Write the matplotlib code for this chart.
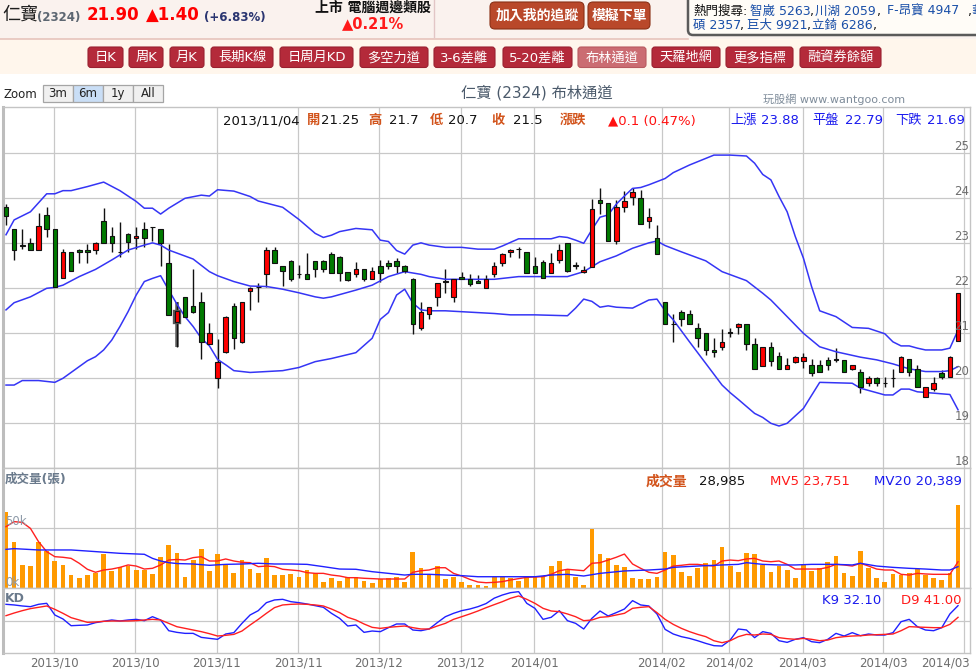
import numpy as np
import matplotlib
matplotlib.use("Agg")
import matplotlib.pyplot as plt
import matplotlib.transforms as mtrans
from matplotlib.patches import FancyBboxPatch, Rectangle

plt.rcParams['font.family'] = ['DejaVu Sans', 'Noto Sans CJK TC']

# ---------------- data ----------------
opens = [23.80, 23.31, 22.97, 23.00, 22.85, 23.64, 23.31, 22.24, 22.80, 22.85,
         22.85, 22.85, 23.50, 23.16, 22.80, 23.20, 23.11, 23.31, 23.36, 23.31,
         22.56, 21.25, 21.80, 21.61, 21.69, 20.76, 20.00, 20.59, 21.61, 20.80,
         21.95, 22.02, 22.31, 22.85, 22.50, 22.61, 22.31, 22.31, 22.61, 22.61,
         22.76, 22.69, 22.37, 22.31, 22.44, 22.20, 22.50, 22.56, 22.61, 22.50,
         22.21, 21.11, 21.44, 21.80, 22.15, 21.80, 22.25, 22.20, 22.16, 22.00,
         22.31, 22.56, 22.80, 22.87, 22.80, 22.50, 22.59, 22.35, 22.63, 23.00,
         22.50, 22.37, 22.48, 23.96, 23.89, 23.05, 23.80, 24.04, 24.00, 23.50,
         23.11, 21.69, 21.20, 21.48, 21.44, 21.11, 21.00, 20.64, 20.70, 21.01,
         21.15, 21.20, 20.76, 20.27, 20.69, 20.50, 20.20, 20.36, 20.39, 20.29,
         20.29, 20.41, 20.41, 20.41, 20.20, 20.15, 19.89, 20.00, 19.89, 20.00,
         20.15, 20.44, 20.20, 19.59, 19.76, 20.11, 20.04, 20.84]
highs = [23.87, 23.31, 23.31, 23.11, 23.67, 23.81, 23.31, 22.87, 22.81, 22.87,
         22.98, 23.04, 23.78, 23.37, 23.47, 23.22, 23.37, 23.47, 23.37, 23.31,
         22.98, 21.70, 21.80, 22.42, 21.91, 21.22, 20.87, 21.39, 21.67, 21.70,
         22.02, 22.11, 22.91, 22.91, 22.50, 22.63, 22.52, 22.78, 22.61, 22.63,
         22.81, 22.72, 22.37, 22.58, 22.44, 22.47, 22.63, 22.63, 22.67, 22.52,
         22.22, 21.70, 21.59, 22.11, 22.42, 22.20, 22.37, 22.31, 22.30, 22.30,
         22.58, 22.79, 22.87, 22.91, 22.81, 22.70, 22.63, 22.78, 22.98, 23.00,
         22.59, 22.50, 23.98, 24.22, 23.89, 23.96, 24.17, 24.22, 24.19, 23.78,
         23.41, 21.70, 21.44, 21.52, 21.52, 21.22, 21.01, 20.90, 21.10, 21.11,
         21.22, 21.20, 20.90, 20.69, 20.81, 20.59, 20.46, 20.50, 20.57, 20.42,
         20.41, 20.47, 20.67, 20.41, 20.29, 20.20, 20.05, 20.02, 20.04, 20.20,
         20.50, 20.44, 20.30, 19.80, 20.02, 20.19, 20.50, 21.90]
lows = [23.41, 22.63, 22.87, 22.85, 22.85, 23.13, 22.04, 22.24, 22.39, 22.57,
        22.57, 22.76, 23.00, 22.81, 22.70, 22.81, 22.87, 22.91, 23.06, 22.50,
        21.41, 20.70, 21.36, 21.46, 20.42, 20.76, 19.78, 20.57, 20.65, 20.78,
        21.52, 21.70, 22.04, 22.56, 22.06, 22.17, 22.22, 22.20, 22.26, 22.37,
        22.35, 22.17, 22.17, 22.26, 22.17, 22.20, 22.15, 22.42, 22.33, 22.33,
        20.98, 21.07, 21.32, 21.61, 21.90, 21.70, 22.20, 22.06, 22.11, 22.00,
        22.26, 22.50, 22.70, 22.67, 22.35, 22.35, 22.24, 22.35, 22.57, 22.37,
        22.42, 22.35, 22.48, 23.65, 23.05, 22.98, 23.70, 23.85, 23.44, 23.33,
        22.76, 21.20, 20.80, 21.16, 21.20, 20.70, 20.52, 20.47, 20.63, 20.91,
        20.98, 20.64, 20.20, 20.27, 20.27, 20.20, 20.20, 20.33, 20.22, 20.05,
        20.15, 20.18, 20.37, 20.15, 20.18, 19.67, 19.84, 19.84, 19.81, 19.81,
        20.13, 20.05, 19.80, 19.59, 19.71, 19.99, 20.04, 20.82]
closes = [23.61, 22.85, 22.95, 22.85, 23.39, 23.31, 22.04, 22.80, 22.39, 22.80,
          22.80, 23.00, 23.00, 23.00, 22.80, 23.04, 23.16, 23.11, 23.36, 23.00,
          21.41, 21.50, 21.36, 21.48, 20.80, 21.00, 20.36, 21.36, 20.89, 21.69,
          22.00, 22.02, 22.85, 22.56, 22.39, 22.20, 22.31, 22.20, 22.44, 22.44,
          22.35, 22.35, 22.19, 22.44, 22.20, 22.39, 22.35, 22.50, 22.50, 22.39,
          21.20, 21.48, 21.59, 22.11, 22.15, 22.20, 22.20, 22.10, 22.11, 22.20,
          22.50, 22.76, 22.85, 22.87, 22.35, 22.35, 22.24, 22.56, 22.85, 22.39,
          22.50, 22.41, 23.76, 23.89, 23.05, 23.80, 23.95, 24.15, 23.44, 23.59,
          22.76, 21.20, 21.20, 21.31, 21.20, 20.89, 20.64, 20.59, 20.80, 21.01,
          21.20, 20.76, 20.20, 20.69, 20.39, 20.20, 20.29, 20.48, 20.48, 20.11,
          20.15, 20.29, 20.41, 20.15, 20.29, 19.80, 20.00, 19.89, 19.89, 20.00,
          20.48, 20.15, 19.80, 19.80, 19.89, 20.04, 20.48, 21.90]

# volume in thousands of shares (張)
volumes = [63.6, 38.6, 19.2, 18.3, 38.6, 31.1, 22.8, 19.2, 10.8, 8.6,
           10.8, 12.8, 28.3, 14.2, 17.2, 18.6, 15.0, 15.0, 11.7, 26.1,
           35.8, 28.985, 9.4, 23.3, 32.5, 14.2, 28.3, 19.2, 12.8, 23.3,
           16.1, 12.8, 25.3, 10.8, 10.8, 11.7, 9.4, 15.0, 12.8, 5.3,
           8.6, 6.1, 9.4, 9.4, 6.1, 4.4, 7.5, 8.6, 9.4, 5.3,
           30.3, 16.9, 10.8, 18.3, 7.2, 9.4, 5.3, 2.8, 2.5, 1.9,
           8.9, 9.4, 8.1, 5.8, 9.4, 8.9, 8.9, 18.3, 22.5, 15.6,
           9.4, 2.5, 49.2, 28.3, 25.0, 19.2, 17.5, 8.3, 7.5, 7.5,
           9.4, 30.0, 27.5, 13.6, 10.0, 16.9, 20.6, 23.3, 33.9, 18.3,
           13.6, 29.2, 28.3, 19.2, 13.6, 18.6, 15.0, 8.6, 19.4, 14.2,
           16.9, 21.7, 26.7, 12.8, 10.3, 30.8, 16.9, 8.6, 5.3, 11.7,
           10.8, 12.8, 15.8, 10.8, 8.6, 6.7, 12.2, 69.2]
mv5 = [51.1, 55.3, 54.7, 49.7, 38.6, 30.3, 26.1, 25.6, 24.7, 20.6,
       15.6, 13.1, 15.0, 15.8, 17.2, 19.2, 18.3, 15.8, 16.4, 19.2,
       23.3, 23.751, 23.3, 25.3, 26.1, 22.5, 22.5, 24.2, 22.5, 21.4,
       21.1, 17.8, 18.3, 17.8, 15.6, 15.0, 14.4, 12.8, 12.2, 12.2,
       10.8, 10.0, 8.6, 8.6, 8.1, 7.8, 7.5, 7.5, 7.5, 7.5,
       13.1, 14.4, 15.0, 16.9, 16.9, 12.2, 10.0, 7.2, 5.0, 4.4,
       4.7, 5.3, 6.7, 7.8, 8.9, 9.2, 9.4, 11.4, 14.4, 15.6,
       15.0, 14.4, 20.6, 21.1, 23.3, 25.6, 28.3, 20.0, 16.4, 13.1,
       12.2, 15.0, 18.3, 18.9, 19.7, 19.7, 18.9, 18.3, 22.5, 23.3,
       22.8, 24.2, 24.7, 22.5, 21.9, 22.5, 19.7, 15.8, 15.8, 15.8,
       15.8, 17.2, 19.7, 19.2, 18.3, 20.6, 18.3, 15.8, 15.0, 15.0,
       11.4, 10.8, 12.2, 11.7, 11.4, 11.4, 11.4, 21.9]
mv20_days = [0, 1, 4, 8, 10, 14, 17, 18, 19, 20, 21, 23, 25, 27, 29, 31, 33, 35, 37, 39,
             41, 43, 45, 47, 49, 50, 52, 54, 56, 58, 60, 62, 65, 67, 69, 71, 73, 76, 79, 81,
             82, 85, 88, 90, 91, 93, 95, 97, 99, 102, 104, 105, 107, 109, 111, 113, 115, 116, 117]
mv20 = [32.2, 32.8, 31.7, 31.7, 30.8, 28.9, 28.1, 24.7, 22.5, 21.1, 20.389, 20.0, 18.9, 19.7, 20.0, 20.6, 20.0, 20.0, 19.7, 17.8,
        15.8, 15.6, 13.6, 12.2, 10.8, 11.4, 11.4, 10.8, 10.3, 9.4, 9.4, 9.4, 9.4, 10.8, 11.4, 10.0, 12.2, 14.2, 15.0, 15.8,
        17.2, 18.3, 19.2, 19.7, 21.1, 19.7, 19.2, 19.2, 19.7, 19.7, 19.2, 20.6, 18.3, 17.2, 16.4, 15.8, 15.0, 15.0, 17.8]

k9 = [76.3, 75.3, 73.7, 72.6, 76.3, 77.9, 59.5, 53.2, 42.6, 43.2,
      43.7, 47.4, 49.5, 51.6, 50.0, 51.6, 52.6, 50.5, 56.8, 51.6,
      34.7, 32.1, 30.5, 30.5, 24.2, 22.6, 21.1, 29.5, 31.6, 46.3,
      59.5, 66.3, 78.9, 83.2, 84.2, 80.5, 78.9, 76.8, 74.2, 71.6,
      62.1, 54.2, 42.1, 43.7, 32.1, 34.2, 33.2, 39.5, 45.3, 45.3,
      35.8, 34.7, 37.4, 47.4, 56.8, 62.1, 66.3, 68.9, 72.6, 77.5,
      86.0, 91.0, 94.7, 96.3, 77.9, 70.0, 52.6, 55.8, 66.3, 50.5,
      46.3, 37.4, 54.2, 65.8, 57.9, 63.2, 68.9, 82.1, 75.3, 73.7,
      61.1, 36.8, 29.5, 25.3, 22.6, 18.9, 14.7, 11.1, 10.5, 20.0,
      37.4, 35.8, 23.7, 33.2, 30.5, 18.9, 16.3, 21.1, 23.7, 17.4,
      15.8, 21.1, 30.5, 26.3, 31.6, 26.8, 29.5, 27.9, 27.9, 31.6,
      48.9, 52.6, 41.1, 35.8, 34.7, 39.5, 61.1, 74.2]
d9 = [58.4, 62.6, 66.3, 69.5, 71.6, 73.7, 68.4, 62.1, 55.3, 51.6,
      47.9, 48.4, 49.5, 50.0, 50.0, 50.0, 50.5, 51.6, 52.6, 51.6,
      46.3, 41.0, 38.4, 35.8, 33.2, 30.0, 26.3, 27.4, 28.9, 34.2,
      43.7, 52.6, 62.1, 71.1, 75.3, 76.3, 76.8, 76.3, 75.3, 73.7,
      68.9, 63.2, 55.8, 51.6, 45.3, 40.0, 38.4, 40.0, 41.1, 42.1,
      39.5, 37.4, 37.4, 42.1, 46.3, 52.6, 56.8, 61.1, 65.8, 71.0,
      75.8, 80.5, 85.8, 89.5, 84.2, 77.9, 70.0, 65.8, 64.7, 61.1,
      56.8, 50.5, 51.6, 55.8, 56.8, 59.5, 62.1, 70.0, 71.6, 72.6,
      63.2, 52.6, 44.7, 38.4, 33.2, 28.9, 25.3, 18.9, 15.8, 18.9,
      25.3, 28.9, 27.9, 29.5, 28.9, 23.7, 22.1, 21.1, 22.6, 21.1,
      18.9, 20.0, 23.7, 25.3, 26.3, 26.8, 27.9, 28.4, 28.9, 29.5,
      34.7, 41.1, 40.5, 40.0, 39.5, 39.5, 44.7, 55.8]

bb_up_days = [0, 1, 3, 5, 6, 7, 8, 10, 12, 14, 16, 17, 18, 19, 20, 22, 24, 25, 26, 28,
              30, 31, 34, 36, 38, 39, 40, 41, 43, 45, 46, 47, 48, 49, 50, 51, 52, 54, 56, 58,
              60, 61, 63, 65, 67, 68, 69, 70, 71, 72, 73, 74, 75, 76, 77, 78, 79, 80, 81, 82,
              84, 87, 89, 91, 92, 93, 94, 95, 96, 97, 98, 99, 100, 102, 104, 106, 108, 109, 110, 111,
              112, 113, 115, 116, 117]
bb_up = [23.19, 23.52, 23.70, 24.10, 24.10, 24.17, 24.17, 24.26, 24.36, 24.17, 23.93, 23.78, 23.78, 23.65, 23.78, 24.00, 24.07, 24.05, 24.19, 24.16,
         24.04, 23.94, 23.80, 23.53, 23.22, 23.13, 23.18, 23.26, 23.33, 23.30, 23.07, 23.04, 22.84, 22.76, 22.96, 23.01, 22.96, 22.91, 22.91, 22.87,
         22.87, 22.94, 23.10, 23.10, 23.10, 23.15, 23.13, 23.07, 23.00, 23.30, 23.58, 23.63, 23.87, 24.05, 24.22, 24.24, 24.30, 24.37, 24.44, 24.57,
         24.74, 24.96, 24.96, 24.94, 24.78, 24.53, 24.41, 24.04, 23.70, 23.15, 22.67, 22.04, 21.50, 21.37, 21.13, 21.11, 20.99, 20.81, 20.72, 20.72,
         20.67, 20.63, 20.63, 20.67, 21.07]
bb_mid_days = [0, 1, 3, 5, 6, 7, 9, 11, 13, 15, 17, 18, 19, 20, 23, 25, 26, 28, 30, 32,
               34, 36, 38, 39, 40, 43, 45, 47, 49, 51, 52, 54, 58, 60, 63, 69, 71, 72, 73, 75,
               77, 79, 80, 81, 83, 86, 88, 91, 93, 94, 96, 98, 100, 102, 105, 107, 109, 111, 113, 115,
               116, 117]
bb_mid = [21.52, 21.68, 21.81, 22.00, 22.02, 22.07, 22.26, 22.42, 22.63, 22.85, 22.96, 23.01, 22.96, 22.85, 22.65, 22.37, 22.28, 22.15, 22.05, 22.04,
          21.98, 21.90, 21.81, 21.78, 21.81, 21.96, 22.07, 22.26, 22.37, 22.31, 22.26, 22.20, 22.20, 22.20, 22.26, 22.26, 22.37, 22.48, 22.59, 22.72,
          22.89, 23.01, 23.05, 22.95, 22.81, 22.61, 22.37, 22.17, 21.89, 21.74, 21.37, 21.00, 20.70, 20.59, 20.47, 20.41, 20.32, 20.21, 20.15, 20.15,
          20.17, 20.26]
bb_low_days = [0, 1, 2, 4, 6, 7, 8, 10, 11, 12, 13, 14, 15, 16, 17, 18, 19, 20, 21, 22,
               23, 24, 25, 26, 27, 28, 30, 32, 34, 36, 38, 40, 43, 45, 46, 47, 48, 49, 50, 51,
               52, 54, 56, 58, 60, 62, 65, 69, 70, 71, 72, 73, 74, 75, 77, 78, 79, 80, 81, 82,
               84, 86, 88, 89, 90, 92, 93, 94, 95, 96, 98, 100, 104, 105, 108, 109, 110, 111, 112, 116,
               117]
bb_low = [19.85, 19.85, 19.95, 19.95, 19.91, 20.00, 20.13, 20.39, 20.48, 20.63, 20.85, 21.15, 21.48, 21.85, 22.15, 22.22, 22.28, 21.96, 21.65, 21.37,
          21.15, 20.89, 20.72, 20.42, 20.30, 20.17, 20.13, 20.15, 20.17, 20.24, 20.37, 20.44, 20.57, 20.89, 21.31, 21.46, 21.85, 21.98, 21.67, 21.52,
          21.50, 21.50, 21.48, 21.46, 21.44, 21.41, 21.41, 21.39, 21.56, 21.76, 21.71, 21.58, 21.61, 21.58, 21.56, 21.65, 21.74, 21.76, 21.50, 21.30,
          20.81, 20.33, 19.85, 19.68, 19.53, 19.22, 19.13, 19.00, 18.94, 19.00, 19.33, 19.91, 19.89, 19.78, 19.63, 19.63, 19.76, 19.76, 19.70, 19.64,
          19.30]

tick_pos = [5.9, 15.85, 25.9, 35.9, 45.8, 55.9, 64.9, 80.6, 88.9, 97.9, 107.8, 117.7]
tick_labels = ["2013/10", "2013/10", "2013/11", "2013/11", "2013/12", "2013/12",
               "2014/01", "2014/02", "2014/02", "2014/03", "2014/03", "2014/03"]
price_ticks = [18, 19, 20, 21, 22, 23, 24, 25]

menu_items = ["日K", "周K", "月K", "長期K線", "日周月KD", "多空力道", "3-6差離",
              "5-20差離", "布林通道", "天羅地網", "更多指標", "融資券餘額"]
menu_x = [(88, 123), (129, 163), (170, 204), (211, 273), (280, 353), (360, 428),
          (434, 495), (503, 572), (578, 646), (652, 720), (726, 793), (800, 881)]
selected_menu = "布林通道"

# ---------------- layout ----------------
W, H = 976, 672
fig = plt.figure(figsize=(W / 100, H / 100), dpi=100)
fig.patch.set_facecolor('white')

bg = fig.add_axes([0, 0, 1, 1], zorder=-5)
bg.set_xlim(0, W); bg.set_ylim(H, 0); bg.axis('off')
fg = fig.add_axes([0, 0, 1, 1], zorder=10)
fg.set_xlim(0, W); fg.set_ylim(H, 0); fg.axis('off')
fg.patch.set_alpha(0)

# header backgrounds
bg.add_patch(Rectangle((0, 0), W, 38.5, color='#FAF2EE', lw=0))
bg.add_patch(Rectangle((0, 38.5), W, 35, color='#FFF6EC', lw=0))
bg.plot([0, 688], [38.5, 38.5], color='#E6C4BC', lw=1.2)
bg.plot([433.5, 433.5], [0, 37], color='#E2C6C6', lw=1)
bg.add_patch(FancyBboxPatch((688, -10), 300, 45, boxstyle='round,pad=0,rounding_size=5',
                            facecolor='#FFFCF7', edgecolor='#5A5A5A', lw=1.8))

FX = 0.0  # placeholder


def btn(x0, x1, y0, y1, face, edge, label, fs, bold=False, r=4):
    fg.add_patch(FancyBboxPatch((x0, y0), x1 - x0, y1 - y0,
                                boxstyle='round,pad=0,rounding_size=%g' % r,
                                facecolor=face, edgecolor=edge, lw=0.8, zorder=1))
    fg.text((x0 + x1) / 2, (y0 + y1) / 2 + 0.5, label, ha='center', va='center',
            fontsize=fs, color='white', fontweight='bold' if bold else 'normal', zorder=2)


# title row texts
fg.text(2, 14.5, "仁寶", fontsize=13, color='#1E1E1E', ha='left', va='center')
fg.text(37, 17, "(2324)", fontsize=8.5, color='#5D6772', fontweight='bold', ha='left', va='center')
fg.text(87, 14.5, "21.90", fontsize=12, color='#FF0000', fontweight='bold', ha='left', va='center')
fg.text(146, 14.5, "▲1.40", fontsize=12, color='#FF0000', fontweight='bold', ha='left', va='center')
fg.text(204, 17, "(+6.83%)", fontsize=8.5, color='#2A3570', fontweight='bold', ha='left', va='center')
fg.text(315, 7.5, "上市 電腦週邊類股", fontsize=10, color='#111111', fontweight='bold', ha='left', va='center')
fg.text(373, 24, "▲0.21%", fontsize=10.5, color='#FF1A1A', fontweight='bold', ha='center', va='center')

btn(490, 584, 2, 29, '#B9482A', '#8A3016', "加入我的追蹤", 10, True, r=5)
btn(588, 650, 2, 29, '#B9482A', '#8A3016', "模擬下單", 10, True, r=5)

# hot search box texts
hot1 = [(693, "熱門搜尋:", '#111111'), (750, "智崴 5263", '#1A4FA8'), (810, ",", '#111111'),
        (815, "川湖 2059", '#1A4FA8'), (877, ",", '#111111'), (887, "F-昂寶 4947", '#1A4FA8'),
        (968, ",", '#111111'), (971, "華", '#1A4FA8')]
hot2 = [(693, "碩 2357", '#1A4FA8'), (740, ",", '#111111'), (747, "巨大 9921", '#1A4FA8'),
        (807, ",", '#111111'), (812, "立錡 6286", '#1A4FA8'), (873, ",", '#111111')]
for xx, s, c in hot1:
    fg.text(xx, 11.5, s, fontsize=9, color=c, ha='left', va='center', clip_on=True)
for xx, s, c in hot2:
    fg.text(xx, 25, s, fontsize=9, color=c, ha='left', va='center')

# menu buttons
for (x0, x1), lab in zip(menu_x, menu_items):
    sel = lab == selected_menu
    btn(x0, x1, 47, 67.5, '#CB6C72' if sel else '#B42A3A', '#9A2030' if not sel else '#B85A60', lab, 9.5, False, r=3)

# zoom row
fg.text(4, 94, "Zoom", fontsize=8.5, color='#222222', ha='left', va='center')
for i, lab in enumerate(["3m", "6m", "1y", "All"]):
    x0 = 43 + i * 30
    fg.add_patch(Rectangle((x0, 84.5), 30, 17, facecolor='#C9DEF6' if lab == "6m" else '#F0F0F0',
                           edgecolor='#A5A5A5', lw=0.9))
    fg.text(x0 + 15, 93.5, lab, fontsize=8.5, color='#222222', ha='center', va='center')

fg.text(536.5, 93, "仁寶 (2324) 布林通道", fontsize=11, color='#4B5A6B', ha='center', va='center')
fg.text(763, 99, "玩股網 www.wantgoo.com", fontsize=8, color='#7F8C9A', ha='left', va='center')

# tooltip row
tip = [(222.5, "2013/11/04", '#111111', 'normal'), (306.5, "開", '#D2541C', 'bold'),
       (321.5, "21.25", '#111111', 'normal'), (368, "高", '#D2541C', 'bold'),
       (388.5, "21.7", '#111111', 'normal'), (430, "低", '#D2541C', 'bold'),
       (448, "20.7", '#111111', 'normal'), (491.5, "收", '#D2541C', 'bold'),
       (512.5, "21.5", '#111111', 'normal'), (560, "漲跌", '#D2541C', 'bold'),
       (608, "▲0.1 (0.47%)", '#FF1010', 'normal'), (730, "上漲", '#1A1AEE', 'normal'),
       (761.5, "23.88", '#1A1AEE', 'normal'), (812.5, "平盤", '#1A1AEE', 'normal'),
       (845, "22.79", '#1A1AEE', 'normal'), (895, "下跌", '#1A1AEE', 'normal'),
       (926.5, "21.69", '#1A1AEE', 'normal')]
for xx, s, c, w in tip:
    fg.text(xx, 120.5, s, fontsize=9.5, color=c, fontweight=w, ha='left', va='center')

# volume header
fg.text(646, 482, "成交量", fontsize=10, color='#D2541C', fontweight='bold', ha='left', va='center')
fg.text(699, 481.5, "28,985", fontsize=9.5, color='#111111', ha='left', va='center')
fg.text(770, 481.5, "MV5 23,751", fontsize=9.5, color='#FF1A1A', ha='left', va='center')
fg.text(874, 481.5, "MV20 20,389", fontsize=9.5, color='#1A1AEE', ha='left', va='center')
fg.text(5, 479, "成交量(張)", fontsize=9, color='#6A7A8C', fontweight='bold', ha='left', va='center')
fg.text(5, 599, "KD", fontsize=9, color='#6A7A8C', fontweight='bold', ha='left', va='center')
fg.text(822, 601, "K9 32.10", fontsize=9.5, color='#1A1AEE', ha='left', va='center')
fg.text(901, 601, "D9 41.00", fontsize=9.5, color='#FF1A1A', ha='left', va='center')

# ---------------- chart axes ----------------
SP = 8.137      # px per candle
X0 = 6.0        # px of first candle
left_px, right_px = 3.0, 970.0
xmin = (left_px - X0) / SP
xmax = (right_px - X0) / SP
pw = (right_px - left_px) / W


def make_ax(top, bottom, y0, px_per_unit):
    ax = fig.add_axes([left_px / W, 1 - bottom / H, pw, (bottom - top) / H])
    ax.set_xlim(xmin, xmax)
    ax.set_ylim(y0, y0 + (bottom - top) / px_per_unit)
    ax.set_xticks([]); ax.set_yticks([])
    for s in ax.spines.values():
        s.set_color('#C4C4C4'); s.set_linewidth(1.0)
    ax.spines['left'].set_linewidth(2.2)
    ax.spines['left'].set_color('#BDBDBD')
    for t in tick_pos:
        ax.axvline(t, color='#C8C8C8', lw=0.9, zorder=0)
    return ax


ax_p = make_ax(107.3, 468.3, 18.0, 45.0)
ax_v = make_ax(468.3, 588.0, 0.0, 1.2)
ax_k = make_ax(588.0, 652.7, 0.0, 0.634)

for p in price_ticks[1:]:
    ax_p.axhline(p, color='#C8C8C8', lw=0.9, zorder=0)
ax_v.axhline(50, color='#C8C8C8', lw=0.9, zorder=0)
ax_k.axhline(50, color='#C8C8C8', lw=0.9, zorder=0)

# candles
idx = np.arange(len(closes))
o = np.array(opens); c = np.array(closes); hi = np.array(highs); lo = np.array(lows)
ax_p.vlines(idx, lo, hi, color='#111111', lw=1.0, zorder=2)
ax_p.vlines([21], [lows[21]], [highs[21]], color='#666666', lw=2.6, zorder=1.9)
colors = np.where(c > o, '#FF0000', np.where(c < o, '#007A00', '#111111'))
bottoms = np.minimum(o, c)
heights = np.maximum(np.abs(c - o), 0.012)
ax_p.bar([21], [heights[21]], bottom=[bottoms[21]], width=0.62, color='none',
         edgecolor='#555555', linewidth=2.4, zorder=2.9)
ax_p.bar(idx, heights, bottom=bottoms, width=0.56, color=colors, edgecolor='#111111',
         linewidth=0.8, zorder=3)

band_col = '#3535F5'
ax_p.plot(bb_up_days, bb_up, color=band_col, lw=1.1, zorder=2.5)
ax_p.plot(bb_mid_days, bb_mid, color=band_col, lw=1.1, zorder=2.5)
ax_p.plot(bb_low_days, bb_low, color=band_col, lw=1.1, zorder=2.5)

ytr = mtrans.blended_transform_factory(ax_p.transAxes, ax_p.transData)
lab_x = (962 - left_px) / (right_px - left_px)
for p in price_ticks:
    ax_p.text(lab_x, p + 6.6 / 45.0, str(p), transform=ytr, ha='center', va='center',
              fontsize=8.5, color='#6E6E6E', zorder=5)

# volume
ax_v.bar(idx, volumes, width=0.58, color='#FF9A00', zorder=2)
ax_v.plot(idx, mv5, color='#FF2020', lw=1.0, zorder=3)
ax_v.plot(mv20_days, mv20, color='#2020FF', lw=1.0, zorder=3)
vtr = mtrans.blended_transform_factory(ax_v.transAxes, ax_v.transData)
ax_v.text(0.002, 50 + 5.3, "50k", transform=vtr, fontsize=8.5, color='#8E9AA8', ha='left', va='center', zorder=5)
ax_v.text(0.002, 5.0, "0k", transform=vtr, fontsize=8.5, color='#8E9AA8', ha='left', va='center', zorder=5)

# KD
ax_k.plot(idx, k9, color='#2020FF', lw=1.0, zorder=3)
ax_k.plot(idx, d9, color='#FF2020', lw=1.0, zorder=3)

xtr = mtrans.blended_transform_factory(ax_k.transData, ax_k.transAxes)
yb = (652.7 - 662.5) / (652.7 - 588.0)
for i, (t, lab) in enumerate(zip(tick_pos, tick_labels)):
    if i == len(tick_pos) - 1:
        ax_k.text(xmax, yb, lab, transform=xtr, ha='right', va='center', fontsize=8.5,
                  color='#6E6E6E', clip_on=False)
    else:
        ax_k.text(t, yb, lab, transform=xtr, ha='center', va='center', fontsize=8.5,
                  color='#6E6E6E', clip_on=False)

fig.savefig("out.png", dpi=100)
